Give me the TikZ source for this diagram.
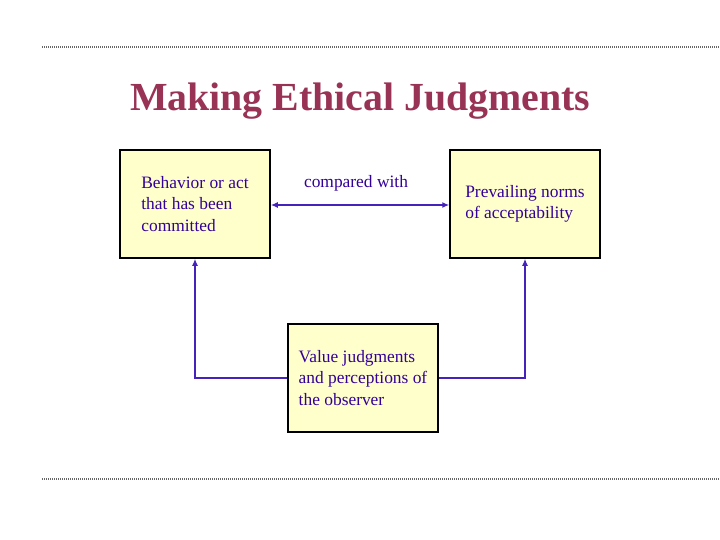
\documentclass[tikz,border=0pt]{standalone}
\usepackage{fontspec}
\setmainfont{Liberation Serif}
\usepackage{xcolor}
\usetikzlibrary{arrows.meta}
\definecolor{boxfill}{HTML}{FFFFCC}
\definecolor{inktext}{HTML}{330099}
\definecolor{inkline}{HTML}{4422BB}
\definecolor{titlered}{HTML}{993355}

\tikzset{
  judgebox/.style={draw=black, line width=1.5pt, fill=boxfill, text=inktext,
    minimum width=150pt, minimum height=108pt, align=left,
    font=\fontsize{17.4}{21.5}\selectfont},
  link/.style={draw=inkline, line width=1.3pt, -{Latex[length=7pt,width=6pt]}},
  rule/.style={black!60, line width=1.2pt, dash pattern=on 1pt off 1pt}
}

\begin{document}
\begin{tikzpicture}[x=1pt, y=-1pt]
  \useasboundingbox (0,0) rectangle (720,540);
  \draw[rule] (42,47) -- (720,47);
  \draw[rule] (42,479) -- (720,479);

  \node[text=titlered, font=\fontsize{39.8}{44}\bfseries\selectfont] (title) at (360,101) {Making Ethical Judgments};

  \node[judgebox] (act) at (195,204) {Behavior or act\\that has been\\committed};
  \node[judgebox] (norms) at (525,204) {Prevailing norms\\of acceptability};
  \node[judgebox] (values) at (363,378) {Value judgments\\and perceptions of\\the observer};

  \draw[link, {Latex[length=7pt,width=6pt]}-{Latex[length=7pt,width=6pt]}] (act.east |- 0,205) -- (norms.west |- 0,205)
    node[midway, above=10pt, xshift=-4pt, text=inktext, font=\fontsize{17.4}{21.5}\selectfont] (cmp) {compared with};

  \draw[link] (values.west) -| (act.south);
  \draw[link] (values.east) -| (norms.south);
\end{tikzpicture}
\end{document}
